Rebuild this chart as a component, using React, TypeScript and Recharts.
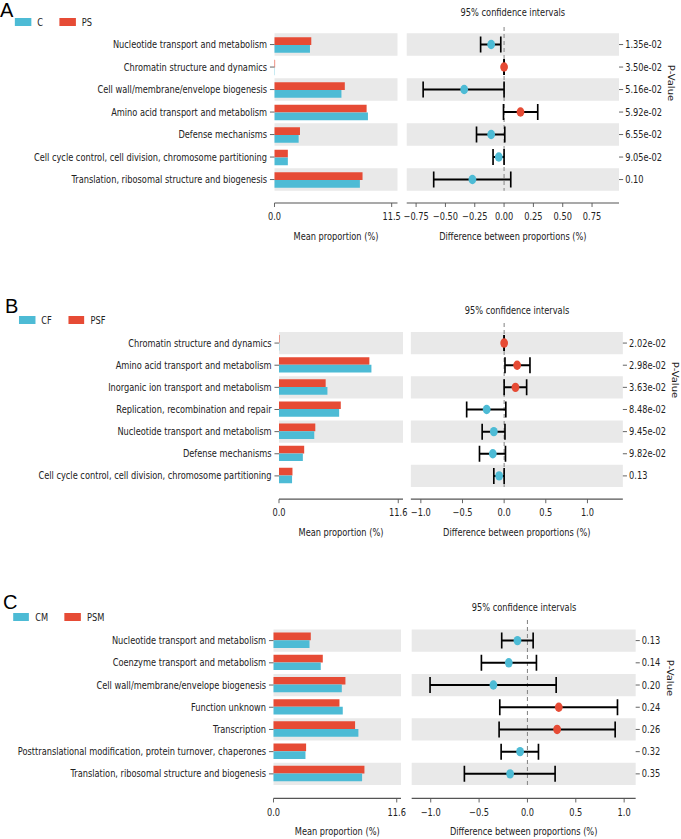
import React from "react";
import {
  BarChart,
  Bar,
  XAxis,
  YAxis,
  ReferenceArea,
  ReferenceLine,
  ScatterChart,
  Scatter,
  ErrorBar,
} from "recharts";

const CYAN = "#4DBBD5";
const RED = "#E64B35";
const BAND = "#e9e9e9";
const INK = "#222";
const AXIS = "#555";
const FONT = "'DejaVu Sans', sans-serif";
// the figure is squeezed horizontally
const SX = 0.825;
const u = (x: number) => x / SX;
const PAD = 24; // room for edge tick labels

// ---- panel A: C vs PS
const catsA = [
  "Nucleotide transport and metabolism",
  "Chromatin structure and dynamics",
  "Cell wall/membrane/envelope biogenesis",
  "Amino acid transport and metabolism",
  "Defense mechanisms",
  "Cell cycle control, cell division, chromosome partitioning",
  "Translation, ribosomal structure and biogenesis",
];
const meanA_C = [3.48, 0.03, 6.57, 9.17, 2.37, 1.31, 8.38];
const meanA_PS = [3.61, 0.06, 6.9, 9.04, 2.5, 1.31, 8.64];
const diffA = [-0.11, 0.0, -0.34, 0.14, -0.11, -0.045, -0.27];
const lowA = [-0.2, 0.0, -0.69, -0.005, -0.235, -0.094, -0.6];
const highA = [-0.028, 0.0, 0.0, 0.287, 0.006, 0.0, 0.057];
const pA = ["1.35e-02", "3.50e-02", "5.16e-02", "5.92e-02", "6.55e-02", "9.05e-02", "0.10"];

// ---- panel B: CF vs PSF
const catsB = [
  "Chromatin structure and dynamics",
  "Amino acid transport and metabolism",
  "Inorganic ion transport and metabolism",
  "Replication, recombination and repair",
  "Nucleotide transport and metabolism",
  "Defense mechanisms",
  "Cell cycle control, cell division, chromosome partitioning",
];
const meanB_CF = [0.03, 8.99, 4.71, 5.85, 3.43, 2.32, 1.27];
const meanB_PSF = [0.05, 8.79, 4.54, 6.01, 3.53, 2.45, 1.31];
const diffB = [0.0, 0.156, 0.136, -0.21, -0.124, -0.136, -0.06];
const lowB = [0.0, 0.01, 0.0, -0.45, -0.264, -0.296, -0.124];
const highB = [0.0, 0.31, 0.27, 0.02, 0.01, 0.016, 0.0];
const pB = ["2.02e-02", "2.98e-02", "3.63e-02", "8.48e-02", "9.45e-02", "9.82e-02", "0.13"];

// ---- panel C: CM vs PSM
const catsC = [
  "Nucleotide transport and metabolism",
  "Coenzyme transport and metabolism",
  "Cell wall/membrane/envelope biogenesis",
  "Function unknown",
  "Transcription",
  "Posttranslational modification, protein turnover, chaperones",
  "Translation, ribosomal structure and biogenesis",
];
const meanC_CM = [3.39, 4.45, 6.43, 6.52, 7.99, 3.01, 8.34];
const meanC_PSM = [3.51, 4.64, 6.77, 6.21, 7.68, 3.07, 8.56];
const diffC = [-0.103, -0.193, -0.352, 0.324, 0.307, -0.076, -0.179];
const lowC = [-0.266, -0.476, -1.007, -0.286, -0.293, -0.272, -0.652];
const highC = [0.059, 0.093, 0.297, 0.931, 0.907, 0.114, 0.286];
const pC = ["0.13", "0.14", "0.20", "0.24", "0.26", "0.32", "0.35"];

const ticksA = [-0.75, -0.5, -0.25, 0, 0.25, 0.5, 0.75];
const ticksBC = [-1, -0.5, 0, 0.5, 1];

const fmtNum = (d: number) => (v: number) =>
  v < 0 ? "\u2212" + Math.abs(v).toFixed(d) : v.toFixed(d);

const makeTick = (fmt: (v: any) => string) => (props: any) => {
  const { x, y, payload, textAnchor, verticalAnchor } = props;
  const dy =
    verticalAnchor === "start" ? "0.71em" : verticalAnchor === "end" ? "0" : "0.355em";
  return (
    <text x={x} y={y} dy={dy} textAnchor={textAnchor} fontSize={10} fill={INK} fontFamily={FONT}>
      {fmt(payload.value)}
    </text>
  );
};

const Dot = (p: any) => (
  <circle cx={p.cx} cy={p.cy} r={4.7} fill={p.payload.diff >= 0 ? RED : CYAN} />
);

function Panel(props: any) {
  const { names, cats, ctrl, trt, diff, low, high, pvals, g } = props;
  const n = cats.length;
  const plotH = g.padTop + n * g.rowH + g.padBottom;
  const chartH = 5 + plotH + 40;
  const yTop = -0.5 - g.padTop / g.rowH;
  const yBot = n - 0.5 + g.padBottom / g.rowH;
  const rows = cats.map((_: string, i: number) => i);

  const bars = cats.map((name: string, i: number) => ({ name, ctrl: ctrl[i], trt: trt[i] }));
  const pts = cats.map((_: string, i: number) => ({
    row: i,
    diff: diff[i],
    err: [diff[i] - low[i], high[i] - diff[i]],
  }));

  const axisCommon = {
    tickLine: { stroke: AXIS },
    axisLine: { stroke: AXIS, strokeWidth: 1.2 },
  };

  return (
    <>
      {/* legend */}
      <div
        style={{
          position: "absolute",
          left: u(g.legend[0]),
          top: g.legend[1] - 6,
          height: 12,
          display: "flex",
          alignItems: "center",
          fontSize: 10,
          color: INK,
          whiteSpace: "nowrap",
        }}
      >
        {[CYAN, RED].map((c, i) => (
          <div key={c} style={{ display: "flex", alignItems: "center", marginRight: 20 }}>
            <div style={{ width: 19.5, height: 8, background: c, marginRight: 7.5 }} />
            <span>{names[i]}</span>
          </div>
        ))}
      </div>

      {/* mean proportions */}
      <div style={{ position: "absolute", left: 0, top: g.plotTop - 5 }}>
        <BarChart
          width={u(g.barRight) + PAD}
          height={chartH}
          data={bars}
          layout="vertical"
          margin={{ top: 5, right: PAD, bottom: 0, left: 0 }}
          barGap={0}
        >
          {cats.map((c: string, i: number) =>
            i % 2 === 0 ? (
              <ReferenceArea key={c} y1={c} y2={c} fill={BAND} fillOpacity={1} stroke="none" />
            ) : null
          )}
          <XAxis
            type="number"
            domain={[0, g.barMax]}
            ticks={[0, g.barTick]}
            interval={0}
            height={40}
            tickSize={4}
            tickMargin={6}
            tick={makeTick(fmtNum(1))}
            label={{ value: "Mean proportion (%)", position: "insideBottom", offset: 3, fill: INK, fontSize: 10 }}
            {...axisCommon}
          />
          <YAxis
            type="category"
            dataKey="name"
            width={u(g.barLeft)}
            padding={{ top: g.padTop, bottom: g.padBottom }}
            interval={0}
            tickSize={5.5}
            tickMargin={3.5}
            tick={makeTick((v) => String(v))}
            tickLine={{ stroke: AXIS }}
            axisLine={false}
          />
          <Bar dataKey="trt" fill={RED} barSize={7.7} isAnimationActive={false} />
          <Bar dataKey="ctrl" fill={CYAN} barSize={7.7} isAnimationActive={false} />
        </BarChart>
      </div>

      {/* confidence intervals */}
      <div
        style={{
          position: "absolute",
          left: u(g.ciLeft),
          width: u(g.ciRight) - u(g.ciLeft),
          top: g.title - 7,
          textAlign: "center",
          fontSize: 10,
          lineHeight: "14px",
          color: INK,
        }}
      >
        95% confidence intervals
      </div>
      <div style={{ position: "absolute", left: u(g.ciLeft) - PAD, top: g.plotTop - 5 }}>
        <ScatterChart
          width={u(g.ciRight) - u(g.ciLeft) + 70 + PAD}
          height={chartH}
          margin={{ top: 5, right: 0, bottom: 0, left: PAD }}
        >
          {rows.map((i: number) =>
            i % 2 === 0 ? (
              <ReferenceArea key={i} y1={i - 0.5} y2={i + 0.5} fill={BAND} fillOpacity={1} stroke="none" />
            ) : null
          )}
          <ReferenceLine
            segment={[
              { x: 0, y: yTop },
              { x: 0, y: n - 0.5 },
            ]}
            stroke="#8a8a8a"
            strokeWidth={1.3}
            strokeDasharray="4 3"
          />
          <XAxis
            type="number"
            dataKey="diff"
            domain={g.ciDomain}
            ticks={g.ciTicks}
            allowDataOverflow
            interval={0}
            height={40}
            tickSize={4}
            tickMargin={6}
            tick={makeTick(fmtNum(g.ciDigits))}
            label={{
              value: "Difference between proportions (%)",
              position: "insideBottom",
              offset: 3,
              fill: INK,
              fontSize: 10,
            }}
            {...axisCommon}
          />
          <YAxis
            type="number"
            dataKey="row"
            orientation="right"
            reversed
            domain={[yTop, yBot]}
            allowDataOverflow
            ticks={rows}
            interval={0}
            width={70}
            tickSize={5}
            tickMargin={2.5}
            tick={makeTick((v) => pvals[v])}
            tickLine={{ stroke: AXIS }}
            axisLine={false}
          />
          <Scatter data={pts} shape={Dot} isAnimationActive={false}>
            <ErrorBar dataKey="err" direction="x" width={8} stroke="#000" strokeWidth={2} isAnimationActive={false} />
          </Scatter>
        </ScatterChart>
      </div>
      <div
        style={{
          position: "absolute",
          left: u(g.pv[0]) - 30,
          top: g.pv[1] - 7,
          width: 60,
          textAlign: "center",
          fontSize: 10,
          lineHeight: "14px",
          color: INK,
          transform: "rotate(90deg)",
        }}
      >
        P-Value
      </div>
    </>
  );
}

const geoA = {
  plotTop: 27, padTop: 6.3, rowH: 22.5, padBottom: 12.2,
  barLeft: 274.5, barRight: 397.5, barMax: 12.07, barTick: 11.5,
  ciLeft: 406.7, ciRight: 619, ciDomain: [-0.83, 0.98], ciTicks: ticksA, ciDigits: 2,
  title: 13.3, pv: [671, 83], legend: [15, 22],
};
const geoB = {
  plotTop: 323.3, padTop: 9, rowH: 22.14, padBottom: 12.2,
  barLeft: 279, barRight: 403, barMax: 12.06, barTick: 11.6,
  ciLeft: 411, ciRight: 623, ciDomain: [-1.12, 1.425], ciTicks: ticksBC, ciDigits: 1,
  title: 310.7, pv: [675, 380], legend: [19, 320],
};
const geoC = {
  plotTop: 620, padTop: 9.5, rowH: 22.21, padBottom: 13.5,
  barLeft: 273.5, barRight: 401, barMax: 12.0, barTick: 11.6,
  ciLeft: 412, ciRight: 636, ciDomain: [-1.197, 1.119], ciTicks: ticksBC, ciDigits: 1,
  title: 607.7, pv: [670, 678], legend: [13, 617],
};

const letterStyle = (left: number, top: number): React.CSSProperties => ({
  position: "absolute",
  left,
  top,
  fontFamily: "'Liberation Sans', Arial, sans-serif",
  fontSize: 20,
  lineHeight: "20px",
  color: "#000",
});

export default function App() {
  return (
    <div
      style={{
        position: "absolute",
        left: 0,
        top: 0,
        width: 681,
        height: 839,
        overflow: "hidden",
        background: "#fff",
        fontFamily: FONT,
      }}
    >
      <div
        style={{
          position: "absolute",
          left: 0,
          top: 0,
          width: u(681),
          height: 839,
          transform: `scaleX(${SX})`,
          transformOrigin: "0 0",
        }}
      >
        <Panel names={["C", "PS"]} cats={catsA} ctrl={meanA_C} trt={meanA_PS} diff={diffA} low={lowA} high={highA} pvals={pA} g={geoA} />
        <Panel names={["CF", "PSF"]} cats={catsB} ctrl={meanB_CF} trt={meanB_PSF} diff={diffB} low={lowB} high={highB} pvals={pB} g={geoB} />
        <Panel names={["CM", "PSM"]} cats={catsC} ctrl={meanC_CM} trt={meanC_PSM} diff={diffC} low={lowC} high={highC} pvals={pC} g={geoC} />
      </div>
      <div style={letterStyle(0, -0.2)}>A</div>
      <div style={letterStyle(5, 295.8)}>B</div>
      <div style={letterStyle(3, 591.5)}>C</div>
    </div>
  );
}
